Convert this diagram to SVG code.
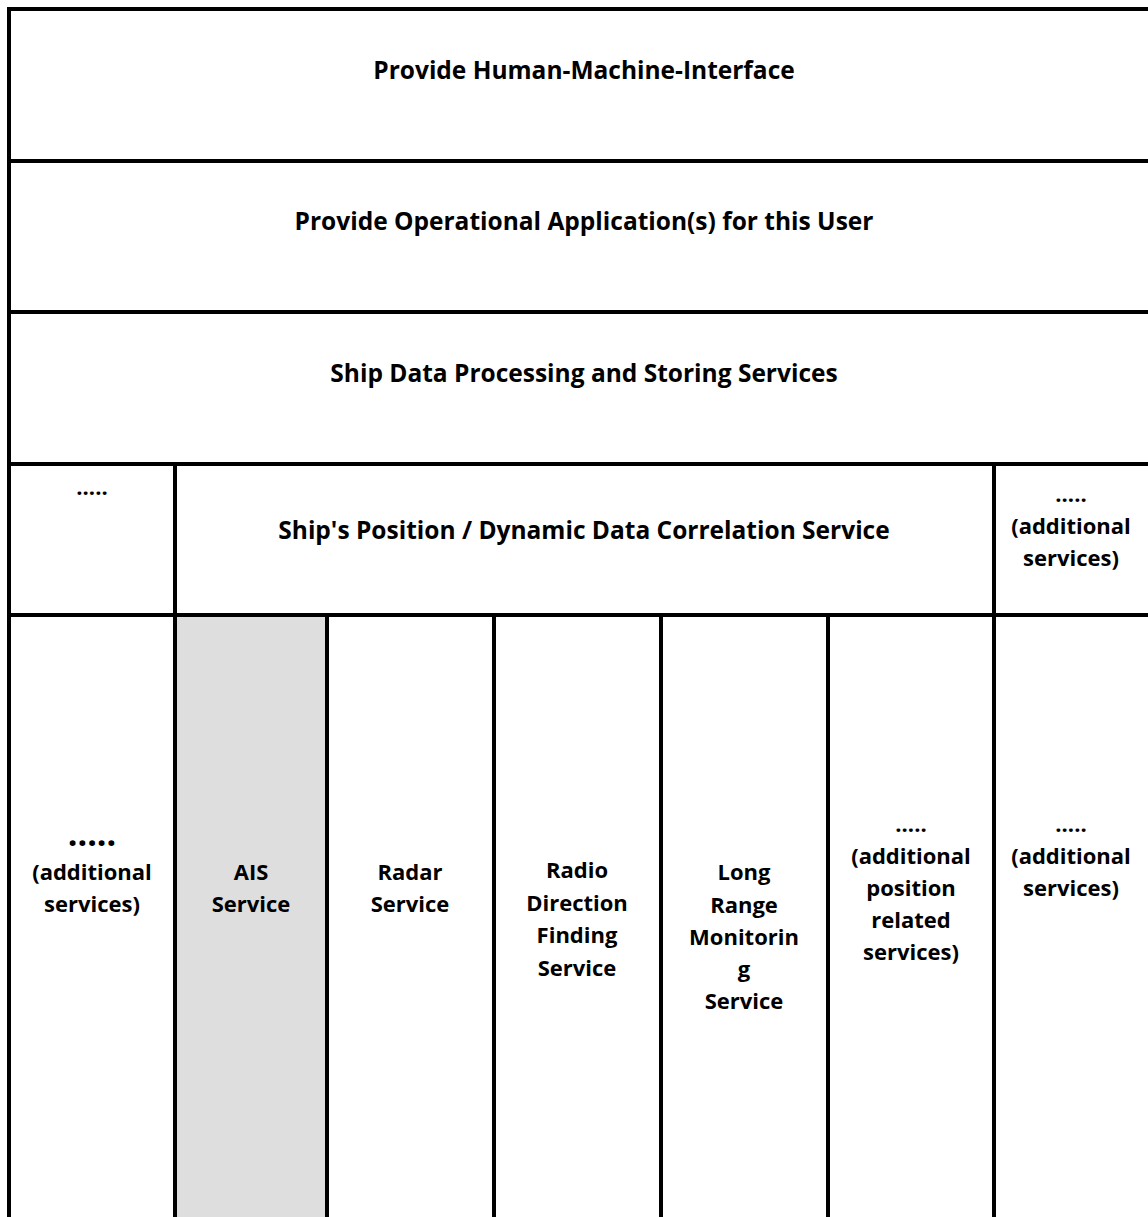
<svg xmlns="http://www.w3.org/2000/svg" width="1148" height="1217" viewBox="0 0 1148 1217">
<style>
.ln{stroke:#000;stroke-width:4;fill:none}
text{font-family:"Open Sans","Liberation Sans",sans-serif;font-weight:bold;font-size:22px;fill:#000;text-anchor:middle}
text.big{font-size:24.5px}
text.dots{font-size:34px}
</style>
<rect width="1148" height="1217" fill="#fff"/>
<g id="cell-ais-bg"><rect x="177" y="617" width="150" height="600" fill="#dedede"/></g>
<g id="connectors">
<path class="ln" d="M7 9H1150M7 161H1150M7 312H1150M7 464H1150M7 615H1150"/>
<path class="ln" d="M9 7V1219M175 464V1219M327 615V1219M494 615V1219M661 615V1219M828 615V1219M994 464V1219"/>
</g>
<g id="hmi"><text class="big" x="584" y="79">Provide Human-Machine-Interface</text></g>
<g id="ops"><text class="big" x="584" y="230">Provide Operational Application(s) for this User</text></g>
<g id="shipdata"><text class="big" x="584" y="382">Ship Data Processing and Storing Services</text></g>
<g id="left-dots"><text x="92" y="495">.....</text></g>
<g id="correlation"><text class="big" x="584" y="539">Ship's Position / Dynamic Data Correlation Service</text></g>
<g id="right-add"><text x="1071" y="502">.....</text><text x="1071" y="534">(additional</text><text x="1071" y="566">services)</text></g>
<g id="col0"><text class="dots" x="92" y="846">.....</text><text x="92" y="880">(additional</text><text x="92" y="912">services)</text></g>
<g id="ais"><text x="251" y="880">AIS</text><text x="251" y="912">Service</text></g>
<g id="radar"><text x="410" y="880">Radar</text><text x="410" y="912">Service</text></g>
<g id="rdf"><text x="577" y="878">Radio</text><text x="577" y="911">Direction</text><text x="577" y="943">Finding</text><text x="577" y="976">Service</text></g>
<g id="lrm"><text x="744" y="880">Long</text><text x="744" y="913">Range</text><text x="744" y="945">Monitorin</text><text x="744" y="977">g</text><text x="744" y="1009">Service</text></g>
<g id="col5"><text x="911" y="832">.....</text><text x="911" y="864">(additional</text><text x="911" y="896">position</text><text x="911" y="928">related</text><text x="911" y="960">services)</text></g>
<g id="col6"><text x="1071" y="832">.....</text><text x="1071" y="864">(additional</text><text x="1071" y="896">services)</text></g>
</svg>
